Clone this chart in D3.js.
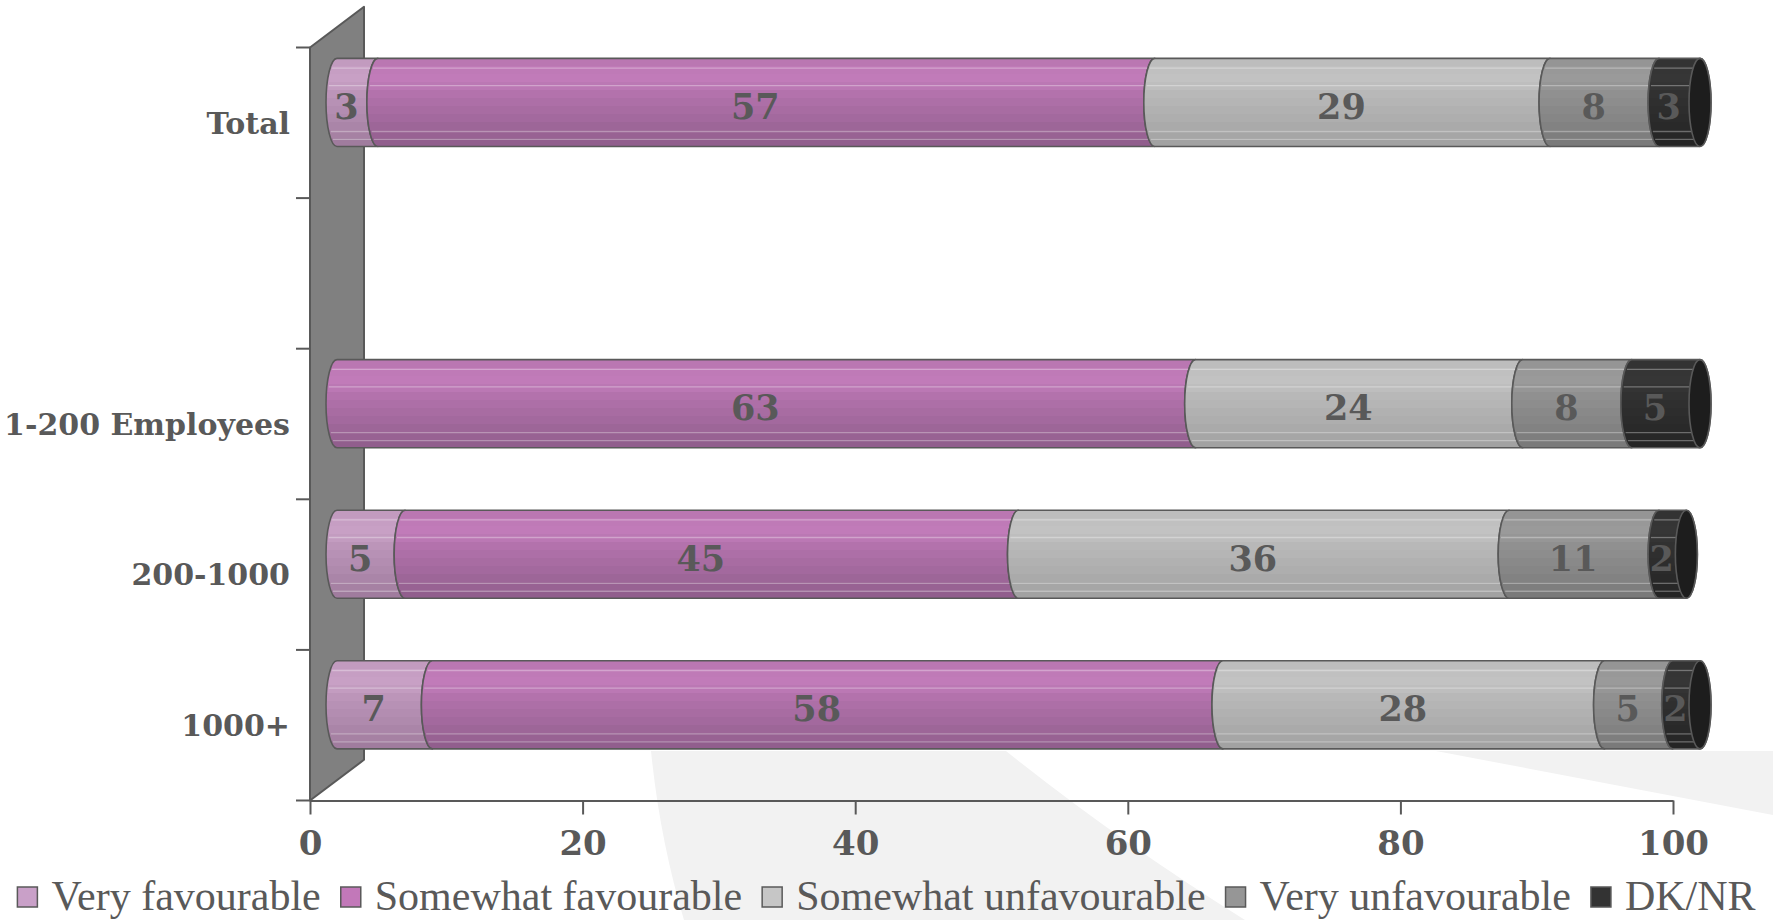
<!DOCTYPE html>
<html>
<head>
<meta charset="utf-8">
<script src="https://cdn.jsdelivr.net/npm/d3@7"></script>
<style>
  html, body { margin: 0; padding: 0; background: #ffffff; overflow: hidden; }
  svg { display: block; }
</style>
</head>
<body>
<svg id="chart" width="1773" height="920"></svg>
<script>
// ---- data -------------------------------------------------------------
// One row per company-size group; the second row is an intentional gap.
const categories = ["Total", "", "1-200 Employees", "200-1000", "1000+"];
const seriesNames = ["Very favourable", "Somewhat favourable", "Somewhat unfavourable", "Very unfavourable", "DK/NR"];
const veryFavourable       = [3,  null, 0,  5,  7];
const somewhatFavourable   = [57, null, 63, 45, 58];
const somewhatUnfavourable = [29, null, 24, 36, 28];
const veryUnfavourable     = [8,  null, 8,  11, 5];
const dkNr                 = [3,  null, 5,  2,  2];
const xTicks = [0, 20, 40, 60, 80, 100];

// ---- styling ----------------------------------------------------------
const seriesTop    = ["#c8a0c5", "#c17bb9", "#c2c2c2", "#9a9a9a", "#363636"];
const seriesBottom = ["#a07c9e", "#915e8d", "#a2a2a2", "#7a7a7a", "#252525"];
const swatchFill   = ["#c9a0c8", "#c278b9", "#c6c6c6", "#969696", "#333333"];
const ink = "#595959";

const W = 1773, H = 920;
const svg = d3.select("#chart");
const defs = svg.append("defs");

// ---- scales -----------------------------------------------------------
const x = d3.scaleLinear().domain([0, 100]).range([310, 1673]);
const y = d3.scaleBand().domain(d3.range(categories.length)).range([47.5, 800.5]).padding(0);
const bw = y.bandwidth();
const barH = bw * 0.585;
const depthX = 54, depthY = -40.7;           // depth of the 3-D wall
const offX = depthX / 2, offY = depthY / 2;  // bars sit half way into the depth
const capRx = 11;

// ---- decorative background swooshes ------------------------------------
const bg = svg.append("g");
bg.append("path")
  .attr("d", "M651,751 L1006,751 Q1120,842 1245,920 L684,920 Q660,840 651,751 Z")
  .attr("fill", "#f2f2f2");
bg.append("path")
  .attr("d", "M1436,751 L1773,751 L1773,815 Z")
  .attr("fill", "#f2f2f2");

// ---- side wall --------------------------------------------------------
const [y0r, y1r] = y.range();
svg.append("path")
  .attr("d", `M${x(0)},${y0r} L${x(0) + depthX},${y0r + depthY} L${x(0) + depthX},${y1r + depthY} L${x(0)},${y1r} Z`)
  .attr("fill", "#808080")
  .attr("stroke", ink)
  .attr("stroke-width", 2)
  .attr("stroke-linejoin", "round");

// category axis ticks at band edges
const edgeTicks = d3.range(categories.length + 1).map(i => y0r + i * bw);
svg.append("g").selectAll("line").data(edgeTicks).join("line")
  .attr("x1", x(0) - 14).attr("x2", x(0))
  .attr("y1", d => d).attr("y2", d => d)
  .attr("stroke", ink).attr("stroke-width", 2);

// ---- value axis -------------------------------------------------------
const xAxis = svg.append("g")
  .attr("transform", `translate(0,${y1r})`)
  .call(d3.axisBottom(x).tickValues(xTicks).tickSize(14).tickSizeOuter(0).tickFormat(d3.format("d")));
xAxis.select(".domain").attr("stroke", ink).attr("stroke-width", 2);
xAxis.selectAll(".tick line").attr("stroke", ink).attr("stroke-width", 2);
xAxis.selectAll(".tick text")
  .attr("y", 42).attr("dy", "0.36em")
  .attr("fill", ink)
  .style("font-family", "'DejaVu Serif', serif")
  .style("font-weight", "bold")
  .style("font-size", "34px");

// ---- gradients (horizontal banding like a shaded cylinder) -------------
const bandProfile = [0.15, 0.05, 0.0, 0.12, 0.3, 0.42, 0.52, 0.62, 0.74, 0.86, 1.0];
seriesNames.forEach((name, k) => {
  const g = defs.append("linearGradient")
    .attr("id", "grad" + k)
    .attr("x1", 0).attr("y1", 0).attr("x2", 0).attr("y2", 1);
  const interp = d3.interpolateRgb(seriesTop[k], seriesBottom[k]);
  const n = bandProfile.length;
  bandProfile.forEach((t, i) => {
    g.append("stop").attr("offset", i / n).attr("stop-color", interp(t));
    g.append("stop").attr("offset", (i + 1) / n).attr("stop-color", interp(t));
  });
});

// ---- stacked cylinders --------------------------------------------------
const seriesValues = [veryFavourable, somewhatFavourable, somewhatUnfavourable, veryUnfavourable, dkNr];
const rows = categories.map((c, i) => {
  const r = { idx: i, category: c, empty: seriesValues.every(s => s[i] == null) };
  seriesNames.forEach((n, k) => { r[n] = seriesValues[k][i] || 0; });
  return r;
});
const stacked = d3.stack().keys(seriesNames)(rows);

const bars = svg.append("g");
const highlightFr = [0.11, 0.31, 0.83, 0.92];

rows.forEach(row => {
  if (row.empty) return;
  const i = row.idx;
  const yc = y(i) + bw / 2 + offY;
  const top = yc - barH / 2, bottom = yc + barH / 2, ry = barH / 2;
  const segs = stacked.map((s, k) => ({ k, v0: s[i][0], v1: s[i][1], v: row[seriesNames[k]] }))
                      .filter(d => d.v > 0);
  const lastK = segs[segs.length - 1].k;
  const g = bars.append("g");

  segs.forEach(sg => {
    const a = x(sg.v0) + offX, b = x(sg.v1) + offX;
    const isLast = sg.k === lastK;
    g.append("path")
      .attr("d", `M${a},${top} L${b},${top} A${capRx},${ry} 0 0 ${isLast ? 1 : 0} ${b},${bottom} L${a},${bottom} A${capRx},${ry} 0 0 1 ${a},${top} Z`)
      .attr("fill", `url(#grad${sg.k})`)
      .attr("stroke", ink)
      .attr("stroke-width", 1.6)
      .attr("stroke-linejoin", "round");
    // faint specular streaks
    highlightFr.forEach(f => {
      const yy = top + f * barH;
      const t = (yy - yc) / ry;
      const off = capRx * Math.sqrt(Math.max(0, 1 - t * t));
      g.append("line")
        .attr("x1", a - off + 2).attr("x2", b - off)
        .attr("y1", yy).attr("y2", yy)
        .attr("stroke", "rgba(255,255,255,0.32)")
        .attr("stroke-width", 1.3);
    });
    if (isLast) {
      g.append("ellipse")
        .attr("cx", b).attr("cy", yc)
        .attr("rx", capRx).attr("ry", ry)
        .attr("fill", d3.color(seriesBottom[sg.k]).darker(0.7))
        .attr("stroke", ink)
        .attr("stroke-width", 1.6);
    }
  });

  // value labels
  segs.forEach(sg => {
    g.append("text")
      .attr("x", x((sg.v0 + sg.v1) / 2) + offX - capRx)
      .attr("y", yc + 4)
      .attr("dy", "0.36em")
      .attr("text-anchor", "middle")
      .attr("fill", ink)
      .style("font-family", "'DejaVu Serif', serif")
      .style("font-weight", "bold")
      .style("font-size", "35px")
      .text(sg.v);
  });
});

// ---- category labels ----------------------------------------------------
svg.append("g").selectAll("text").data(rows.filter(r => !r.empty)).join("text")
  .attr("x", 290)
  .attr("y", d => y(d.idx) + bw / 2)
  .attr("dy", "0.36em")
  .attr("text-anchor", "end")
  .attr("fill", ink)
  .style("font-family", "'DejaVu Serif', serif")
  .style("font-weight", "bold")
  .style("font-size", "30px")
  .text(d => d.category);

// ---- legend -----------------------------------------------------------
const legend = svg.append("g");
const legendY = 896, sw = 20, gapIn = 14, gapOut = 20;
const items = seriesNames.map((n, k) => {
  const gi = legend.append("g");
  gi.append("rect")
    .attr("width", sw).attr("height", sw)
    .attr("y", legendY - sw / 2 + 1)
    .attr("fill", swatchFill[k])
    .attr("stroke", ink).attr("stroke-width", 1.5);
  const t = gi.append("text")
    .attr("x", sw + gapIn)
    .attr("y", legendY)
    .attr("dy", "0.33em")
    .attr("fill", ink)
    .style("font-family", "'Liberation Serif', serif")
    .style("font-size", "42px")
    .text(n);
  return { gi, w: sw + gapIn + t.node().getComputedTextLength() };
});
const totalW = d3.sum(items, d => d.w) + gapOut * (items.length - 1);
let cx = (W - totalW) / 2;
items.forEach(it => {
  it.gi.attr("transform", `translate(${cx},0)`);
  cx += it.w + gapOut;
});
</script>
</body>
</html>
